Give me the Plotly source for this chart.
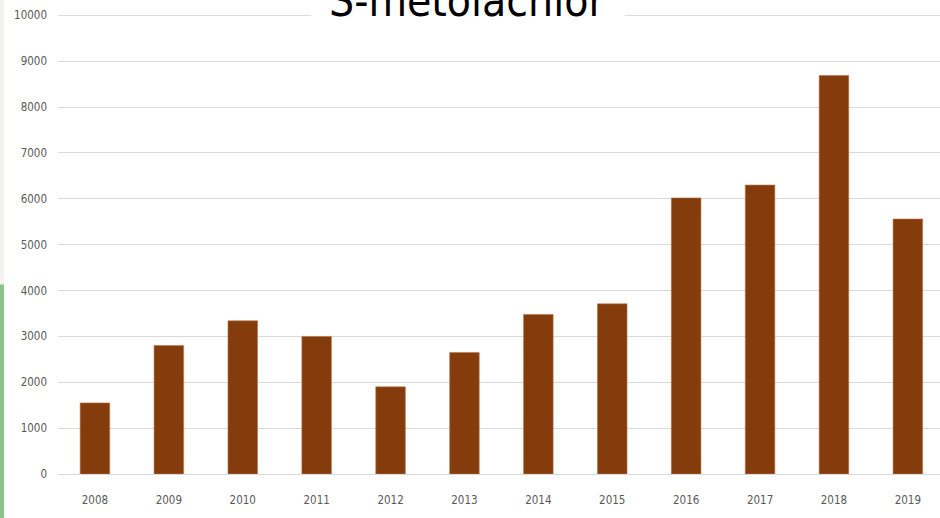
import plotly.graph_objects as go

years = ["2008", "2009", "2010", "2011", "2012", "2013", "2014", "2015", "2016", "2017", "2018", "2019"]
values = [1550, 2800, 3340, 3000, 1900, 2650, 3480, 3710, 6020, 6300, 8690, 5560]
y_ticks = [0, 1000, 2000, 3000, 4000, 5000, 6000, 7000, 8000, 9000, 10000]
y_tick_labels = [str(v) for v in y_ticks]
title_text = "S-metolachlor"

W, H = 940, 518
ML, MR, MT, MB = 58, 0, 15, 44
plot_w = W - ML - MR
plot_h = H - MT - MB
cat_px = 73.9

fig = go.Figure()
fig.add_trace(go.Bar(
    x=years, y=values, width=0.4,
    marker=dict(color="#843C0C", line=dict(width=0.6, color="#B9734A")),
))

tick_font = dict(family="DejaVu Sans Condensed", size=11.5, color="#595959")

fig.update_layout(
    width=W, height=H,
    margin=dict(l=ML, r=MR, t=MT, b=MB, pad=0),
    paper_bgcolor="white", plot_bgcolor="white",
    showlegend=False,
    bargap=0.6,
    xaxis=dict(
        type="category",
        range=[-0.5, -0.5 + plot_w / cat_px],
        showgrid=False, showline=True, linecolor="#d9d9d9", linewidth=1,
        ticks="", tickfont=tick_font, ticklabelstandoff=15,
        zeroline=False,
    ),
    yaxis=dict(
        range=[0, 10008], tickvals=y_ticks, ticktext=y_tick_labels,
        showgrid=True, gridcolor="#d9d9d9", gridwidth=1,
        zeroline=False, showline=False,
        ticks="", tickfont=tick_font, ticklabelstandoff=10,
    ),
)

# top gridline (drawn explicitly so it shows at the edge of the plot area)
fig.add_shape(type="line", xref="paper", yref="y",
              x0=0, x1=1, y0=y_ticks[-1], y1=y_ticks[-1],
              line=dict(color="#d9d9d9", width=1), layer="below")

# white box behind the title that interrupts the top gridline
fig.add_shape(type="rect", xref="paper", yref="paper",
              x0=(311 - ML) / plot_w, x1=(625 - ML) / plot_w,
              y0=1 - 8 / plot_h, y1=1 + 20 / plot_h,
              fillcolor="white", line=dict(width=0), layer="above")

fig.add_annotation(
    text=title_text, xref="paper", yref="paper",
    x=(467 - ML) / plot_w, y=1, xanchor="center", yanchor="bottom",
    yshift=-13, showarrow=False,
    font=dict(family="DejaVu Sans Condensed", size=44, color="#000000"),
)

# strip of background visible along the left edge
fig.add_shape(type="rect", xref="paper", yref="paper",
              x0=-ML / plot_w, x1=(4 - ML) / plot_w,
              y0=-MB / plot_h, y1=1 + MT / plot_h,
              fillcolor="#f4f2ee", line=dict(width=0), layer="below")
fig.add_shape(type="rect", xref="paper", yref="paper",
              x0=-ML / plot_w, x1=(4 - ML) / plot_w,
              y0=-MB / plot_h, y1=(474.5 - 285) / plot_h,
              fillcolor="#87c58c", line=dict(width=0), layer="below")

fig.write_html("out.html", config={"displayModeBar": False},
               post_script="document.body.style.margin='0';")
